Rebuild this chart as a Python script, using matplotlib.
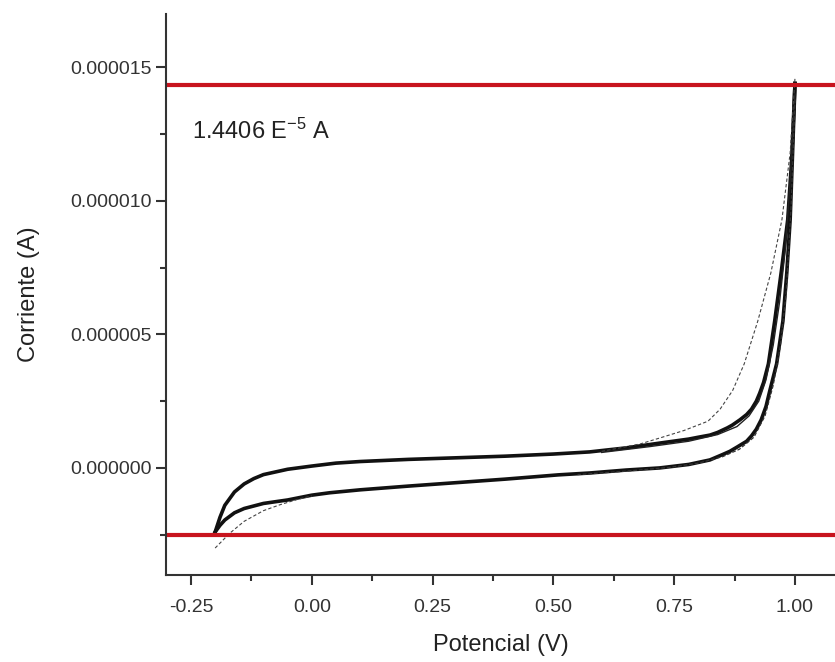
import matplotlib
matplotlib.use("Agg")
import matplotlib.pyplot as plt
from matplotlib.ticker import MultipleLocator, FormatStrFormatter

plt.rcParams['font.family'] = ['Liberation Sans', 'DejaVu Sans']
plt.rcParams['mathtext.fontset'] = 'custom'
plt.rcParams['mathtext.rm'] = 'Liberation Sans'
plt.rcParams['mathtext.default'] = 'regular'

# ---- data (current in microamps, converted below) ----
# main cycle, anodic branch
E_up = [-0.200, -0.190, -0.180, -0.160, -0.140, -0.120, -0.100, -0.050, 0.000, 0.050,
        0.100, 0.200, 0.300, 0.400, 0.500, 0.575, 0.650, 0.720, 0.780, 0.800,
        0.824, 0.840, 0.860, 0.870, 0.886, 0.900, 0.910, 0.920, 0.927, 0.935,
        0.945, 0.958, 0.972, 0.985, 0.993, 1.000]
I_up = [-2.40, -1.85, -1.40, -0.90, -0.60, -0.40, -0.25, -0.05, 0.07, 0.18,
        0.24, 0.32, 0.38, 0.44, 0.52, 0.60, 0.75, 0.93, 1.08, 1.15,
        1.23, 1.33, 1.50, 1.60, 1.80, 2.00, 2.20, 2.50, 2.80, 3.20,
        3.90, 5.50, 7.40, 9.30, 11.5, 14.4]

# main cycle, cathodic branch
E_down = [1.000, 0.995, 0.990, 0.983, 0.975, 0.962, 0.948, 0.940, 0.930, 0.920,
          0.910, 0.900, 0.880, 0.865, 0.850, 0.824, 0.780, 0.720, 0.650, 0.575,
          0.510, 0.400, 0.300, 0.200, 0.100, 0.037, 0.000, -0.050, -0.100, -0.140,
          -0.160, -0.180, -0.190, -0.200]
I_down = [14.4, 11.8, 9.30, 7.30, 5.50, 3.90, 2.90, 2.30, 1.80, 1.45,
          1.20, 1.00, 0.78, 0.62, 0.50, 0.30, 0.13, 0.00, -0.08, -0.19,
          -0.26, -0.42, -0.55, -0.68, -0.82, -0.93, -1.02, -1.20, -1.33, -1.52,
          -1.68, -1.95, -2.15, -2.40]

# second cycle (thin)
E_up2 = [0.600, 0.700, 0.780, 0.840, 0.880, 0.905, 0.925, 0.940, 0.955, 0.968, 0.980, 0.990, 1.000]
I_up2 = [0.58, 0.80, 1.00, 1.25, 1.55, 1.95, 2.50, 3.30, 4.60, 6.20, 8.20, 10.8, 14.0]
E_down2 = [1.000, 0.992, 0.982, 0.970, 0.955, 0.938, 0.915, 0.885, 0.850, 0.800, 0.740, 0.650, 0.550]
I_down2 = [13.8, 9.80, 6.60, 4.60, 3.10, 1.95, 1.15, 0.70, 0.42, 0.18, 0.02, -0.12, -0.25]

# first scan (dashed)
E_first = [0.600, 0.680, 0.720, 0.770, 0.820, 0.845, 0.871, 0.895, 0.923, 0.950, 0.973, 0.990, 1.000]
I_first = [0.62, 0.90, 1.12, 1.40, 1.75, 2.20, 2.90, 3.90, 5.50, 7.30, 9.30, 11.8, 14.6]
E_start = [-0.200, -0.170, -0.140, -0.100, -0.066, -0.030, 0.000]
I_start = [-3.00, -2.45, -2.00, -1.60, -1.38, -1.18, -1.05]

i_peak_line = 1.433e-5
i_low_line = -2.5e-6
peak_label = "1.4406 E$^{-5}$ A"

def amps(vals):
    return [v * 1e-6 for v in vals]

fig = plt.figure(figsize=(8.35, 6.62), dpi=100)
ax = fig.add_axes([0.1988, 0.1314, 0.8012, 0.8475])

ax.plot(E_up, amps(I_up), color='#111111', lw=2.6)
ax.plot(E_down, amps(I_down), color='#111111', lw=2.6)
ax.plot(E_up2, amps(I_up2), color='#222222', lw=1.0)
ax.plot(E_down2, amps(I_down2), color='#333333', lw=0.9, ls=(0, (3, 1.5)))
ax.plot(E_first, amps(I_first), color='#444444', lw=0.8, ls=(0, (3, 2)))
ax.plot(E_start, amps(I_start), color='#444444', lw=0.8, ls=(0, (3, 2)))

ax.axhline(i_peak_line, color='#c8141e', lw=3)
ax.axhline(i_low_line, color='#c8141e', lw=3)

ax.text(-0.247, 12.6e-6, peak_label, fontsize=17, va='center', ha='left', color='#222222')

ax.set_xlim(-0.3017, 1.0828)
ax.set_ylim(-4.01e-6, 17.0e-6)

ax.xaxis.set_major_locator(MultipleLocator(0.25))
ax.xaxis.set_minor_locator(MultipleLocator(0.125))
ax.yaxis.set_major_locator(MultipleLocator(5e-6))
ax.yaxis.set_minor_locator(MultipleLocator(2.5e-6))
ax.xaxis.set_major_formatter(FormatStrFormatter('%.2f'))
ax.yaxis.set_major_formatter(FormatStrFormatter('%.6f'))

for s in ['top', 'right']:
    ax.spines[s].set_visible(False)
for s in ['left', 'bottom']:
    ax.spines[s].set_linewidth(1.5)
    ax.spines[s].set_color('#333333')

ax.tick_params(which='major', direction='out', length=7, width=1.5, color='#333333',
               labelsize=14, labelcolor='#333333')
ax.tick_params(which='minor', direction='out', length=4, width=1.5, color='#333333')
ax.tick_params(axis='y', which='major', pad=3)
ax.tick_params(axis='x', which='major', pad=10)

ax.set_xlabel("Potencial (V)", fontsize=17, color='#222222', labelpad=13)
ax.set_ylabel("Corriente (A)", fontsize=17, color='#222222', labelpad=22)

fig.savefig("out.png", dpi=100)
